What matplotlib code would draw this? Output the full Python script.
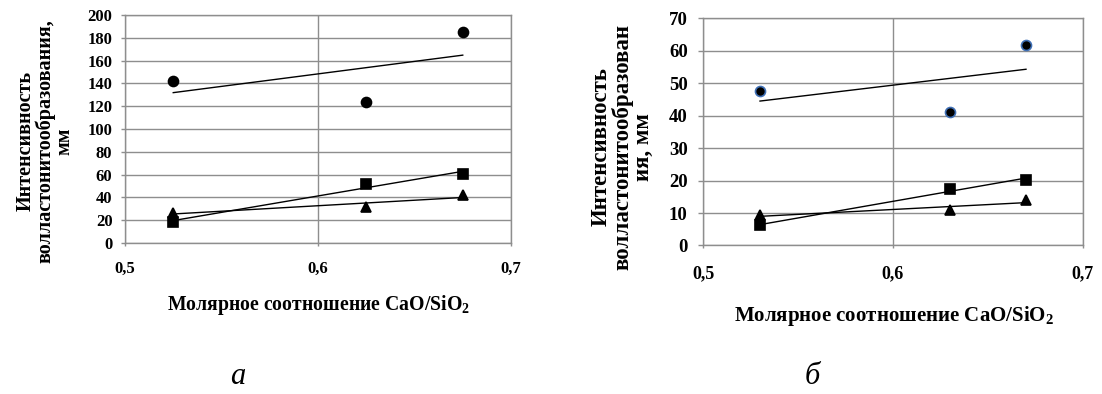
import numpy as np
import matplotlib
matplotlib.use('Agg')
import matplotlib.pyplot as plt

# ---------------- data ----------------
x_a = [0.525, 0.625, 0.675]
circ_a = [142, 123.5, 185]
sq_a = [18.5, 52, 60.5]
tri_a = [26.5, 32, 42]

x_b = [0.53, 0.63, 0.67]
circ_b = [47.5, 41, 61.8]
sq_b = [6.2, 17.5, 20.2]
tri_b = [9.3, 10.9, 14.0]

xticks = [0.5, 0.6, 0.7]
xtick_labels = ['0,5', '0,6', '0,7']
yticks_a = list(range(0, 201, 20))
yticks_b = list(range(0, 71, 10))

xlabel_text = 'Молярное соотношение CaO/SiO$_2$'
ylabel_a = 'Интенсивность\nволластонитообразования,\nмм'
ylabel_b = 'Интенсивность\nволластонитообразован\nия, мм'
panel_a = 'а'
panel_b = 'б'

# ---------------- style ----------------
plt.rcParams['font.family'] = ['Liberation Serif', 'DejaVu Serif']
plt.rcParams['font.weight'] = 'bold'
plt.rcParams['mathtext.fontset'] = 'custom'
plt.rcParams['mathtext.rm'] = 'Liberation Serif:bold'
plt.rcParams['mathtext.it'] = 'Liberation Serif:bold:italic'
plt.rcParams['mathtext.bf'] = 'Liberation Serif:bold'

GRID = '#8e8e8e'
W, H = 1102, 394
fig = plt.figure(figsize=(W / 100, H / 100), dpi=100)


def px_axes(x0, x1, ytop, ybot):
    return fig.add_axes([x0 / W, 1 - ybot / H, (x1 - x0) / W, (ybot - ytop) / H])


def setup(ax, yticks, ymax, ytick_fs, xtick_fs, xpad, ypad, ylen):
    ax.set_xlim(0.5, 0.7)
    ax.set_ylim(0, ymax)
    ax.set_xticks(xticks)
    ax.set_xticklabels(xtick_labels, fontsize=xtick_fs, fontweight='bold')
    ax.set_yticks(yticks)
    ax.set_yticklabels([str(v) for v in yticks], fontsize=ytick_fs, fontweight='bold')
    ax.grid(True, color=GRID, lw=1.0)
    ax.set_axisbelow(True)
    for s in ax.spines.values():
        s.set_color(GRID)
        s.set_linewidth(1.0)
    ax.tick_params(axis='x', colors=GRID, labelcolor='black', length=2, width=1, pad=xpad)
    ax.tick_params(axis='y', colors=GRID, labelcolor='black', length=ylen, width=1, pad=ypad)


def draw(ax, x, ys, markers, sizes, edgecolors):
    xs = np.array(x)
    for y, m, ms, ec in zip(ys, markers, sizes, edgecolors):
        k, b = np.polyfit(xs, np.array(y), 1)
        ax.plot([xs.min(), xs.max()], [k * xs.min() + b, k * xs.max() + b],
                color='black', lw=1.0, zorder=3)
        ax.plot(xs, y, linestyle='none', marker=m, ms=ms, mfc='black',
                mec=ec, mew=1.2, zorder=4, clip_on=False)


# Panel a
ax1 = px_axes(125, 511, 15, 243)
setup(ax1, yticks_a, 200, 12, 12, 11, 6, 3)
draw(ax1, x_a, [circ_a, sq_a, tri_a], ['o', 's', '^'], [7.2, 6.8, 6.8],
     ['black', 'black', 'black'])

# Panel b
ax2 = px_axes(703, 1083, 18.3, 245.5)
setup(ax2, yticks_b, 70, 13.5, 13, 12.5, 7.5, 3.5)
draw(ax2, x_b, [circ_b, sq_b, tri_b], ['o', 's', '^'], [7.2, 6.6, 6.8],
     ['#3f6fb5', 'black', 'black'])

# axis titles
fig.text(318 / W, 1 - 305 / H, xlabel_text, ha='center', va='center',
         fontsize=14.2, fontweight='bold')
fig.text(894 / W, 1 - 316 / H, xlabel_text, ha='center', va='center',
         fontsize=15, fontweight='bold')

fig.text(45 / W, 1 - 141 / H, ylabel_a, rotation=90, ha='center', va='center',
         multialignment='center', fontsize=14.5, fontweight='bold', linespacing=0.95)
fig.text(622 / W, 1 - 147 / H, ylabel_b, rotation=90, ha='center', va='center',
         multialignment='center', fontsize=16.5, fontweight='bold', linespacing=0.98)

# panel letters
fig.text(238 / W, 1 - 377 / H, panel_a, ha='center', va='center',
         fontsize=22, style='italic', fontweight='normal')
fig.text(812 / W, 1 - 377 / H, panel_b, ha='center', va='center',
         fontsize=22, style='italic', fontweight='normal')

fig.savefig('out.png', dpi=100)
